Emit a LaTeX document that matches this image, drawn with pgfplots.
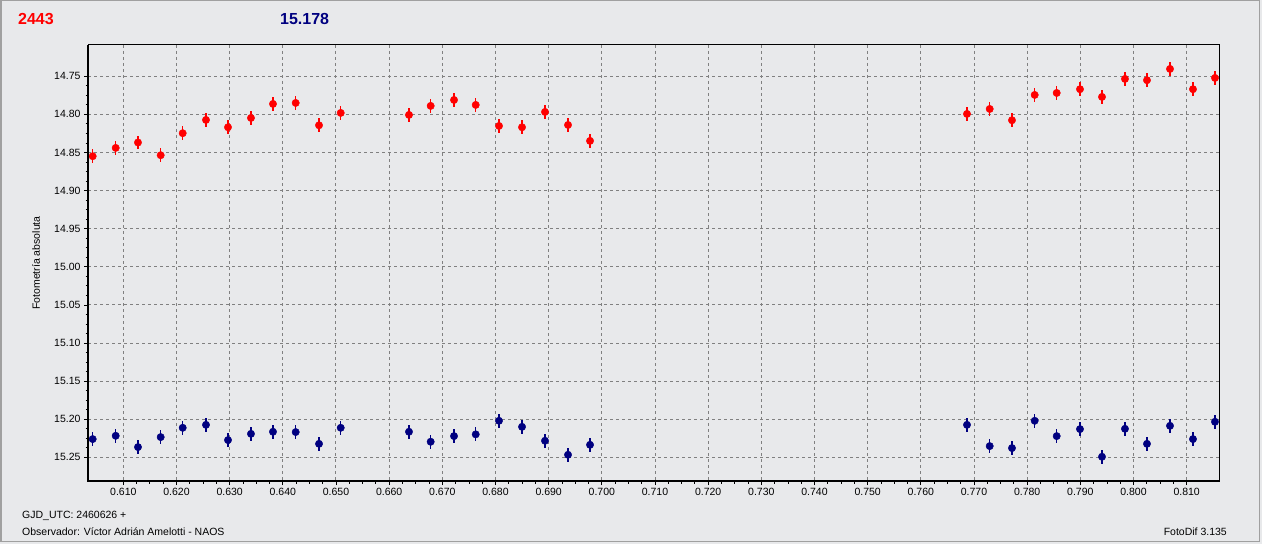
\documentclass[border=0pt]{standalone}
\usepackage{pgfplots}
\usepackage{pgfplotstable}
\pgfplotsset{compat=1.18}
\usepackage{fontspec}
\setmainfont{Liberation Sans}
\definecolor{bg}{RGB}{232,233,235}
\definecolor{framec}{RGB}{160,160,160}
\definecolor{navyb}{RGB}{0,0,128}
\definecolor{gridc}{RGB}{128,128,128}

\pgfplotstableread{
x y
0.60424 14.8549
0.60857 14.8440
0.61276 14.8369
0.61703 14.8536
0.62117 14.8247
0.62555 14.8073
0.62969 14.8169
0.63401 14.8047
0.63815 14.7863
0.64242 14.7850
0.64681 14.8143
0.65089 14.7981
0.66373 14.8007
0.66781 14.7889
0.67220 14.7811
0.67628 14.7876
0.68066 14.8152
0.68499 14.8169
0.68931 14.7968
0.69364 14.8139
0.69778 14.8348
0.76868 14.7994
0.77295 14.7929
0.77714 14.8077
0.78141 14.7745
0.78555 14.7719
0.78993 14.7670
0.79407 14.7771
0.79839 14.7535
0.80253 14.7552
0.80686 14.7404
0.81118 14.7670
0.81532 14.7522
}\redtable

\pgfplotstableread{
x y
0.60424 15.2260
0.60857 15.2217
0.61276 15.2365
0.61703 15.2234
0.62117 15.2112
0.62555 15.2073
0.62969 15.2273
0.63401 15.2191
0.63815 15.2164
0.64242 15.2168
0.64681 15.2322
0.65089 15.2112
0.66373 15.2164
0.66781 15.2295
0.67220 15.2221
0.67628 15.2198
0.68066 15.2020
0.68499 15.2099
0.68931 15.2282
0.69364 15.2466
0.69778 15.2335
0.76868 15.2073
0.77295 15.2352
0.77714 15.2378
0.78141 15.2020
0.78555 15.2221
0.78993 15.2129
0.79407 15.2492
0.79839 15.2125
0.80253 15.2322
0.80686 15.2086
0.81118 15.2260
0.81532 15.2033
}\bluetable

\begin{document}
\begin{tikzpicture}[x=1pt,y=1pt]
\useasboundingbox (0,0) rectangle (1262,544);
\fill[bg] (0,0) rectangle (1262,544);
\draw[framec, line width=1.5pt] (0.75,2.5) rectangle (1259.5,543.25);
\begin{axis}[
  at={(88pt,63pt)}, anchor=south west,
  scale only axis, width=1132pt, height=436pt,
  xmin=0.60336, xmax=0.81626,
  ymin=14.709, ymax=15.281, y dir=reverse,
  axis background/.style={fill=bg},
  axis line style={line width=1pt, black},
  xtick={0.61,0.62,0.63,0.64,0.65,0.66,0.67,0.68,0.69,0.70,0.71,0.72,0.73,0.74,0.75,0.76,0.77,0.78,0.79,0.80,0.81},
  ytick={14.75,14.80,14.85,14.90,14.95,15.00,15.05,15.10,15.15,15.20,15.25},
  minor x tick num=3, minor y tick num=3,
  tick align=outside, major tick length=4pt, minor tick length=2.5pt,
  xtick pos=bottom, ytick pos=left,
  tick style={black, line width=0.8pt},
  grid=major,
  major grid style={gridc, line width=1pt, dash pattern=on 3pt off 3pt},
  x tick label style={font=\fontsize{10.5}{12}\selectfont, /pgf/number format/.cd, fixed, fixed zerofill, precision=3, assume math mode=true},
  y tick label style={font=\fontsize{10.5}{12}\selectfont, /pgf/number format/.cd, fixed, fixed zerofill, precision=2, assume math mode=true},
  scaled x ticks=false, scaled y ticks=false,
  clip=false,
  after end axis/.code={
    \draw[line width=2.5pt, black] (axis description cs:0,1) -- (axis description cs:0,0) -- (axis description cs:1,0);
  },
]
\addplot[only marks, mark=*, mark size=3.7pt, color=red,
  error bars/.cd, y dir=both, y fixed=0.009, error mark=none,
  error bar style={line width=1.3pt, red}]
  table[x=x, y=y] {\redtable};
\addplot[only marks, mark=*, mark size=3.7pt, color=navyb,
  error bars/.cd, y dir=both, y fixed=0.009, error mark=none,
  error bar style={line width=1.3pt, navyb}]
  table[x=x, y=y] {\bluetable};
\end{axis}
\node[red, font=\bfseries\fontsize{16}{18}\selectfont, anchor=west, inner sep=0] at (18,525) {2443};
\node[navyb, font=\bfseries\fontsize{16}{18}\selectfont, anchor=west, inner sep=0] at (280,525) {15.178};
\node[font=\fontsize{10.5}{12}\selectfont, anchor=west, inner sep=0] at (22,28) {GJD\_UTC: 2460626 +};
\node[font=\fontsize{10.5}{12}\selectfont, anchor=west, inner sep=0] at (22,12) {Observador: Víctor Adrián Amelotti - NAOS};
\node[font=\fontsize{10.5}{12}\selectfont, anchor=east, inner sep=0] at (1227,12) {FotoDif 3.135};
\node[font=\fontsize{10.5}{12}\selectfont, rotate=90, inner sep=0] at (36,281) {Fotometría absoluta};
\end{tikzpicture}
\end{document}
